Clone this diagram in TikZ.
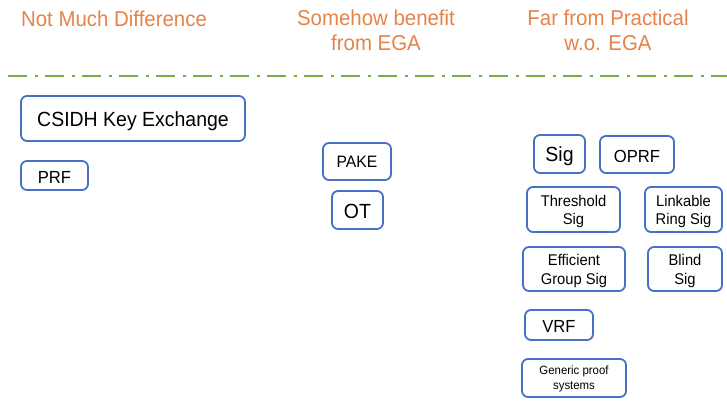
\documentclass[tikz,border=0pt]{standalone}
\usepackage{fontspec}
\setmainfont{Liberation Sans}[FakeStretch=0.95]
\definecolor{hdr}{RGB}{229,131,72}
\definecolor{sep}{RGB}{122,172,72}
\definecolor{boxline}{RGB}{72,112,196}
% box label: centred stack of lines, nudged down by \lowerby without
% changing the extent the node is centred on
\def\lowerby{0pt}
\newcommand{\bt}[1]{\raisebox{-\lowerby}[\height][\depth]{%
  \begin{tabular}{@{}c@{}}#1\end{tabular}}}
\begin{document}
\begin{tikzpicture}[x=1pt,y=-1pt,
  header/.style={text=hdr,align=center,inner sep=0pt,
    font=\fontsize{21.5}{25}\selectfont},
  item/.style={draw=boxline,line width=1.8pt,rounded corners=6pt,
    fill=white,inner sep=0pt,text=black},
  sz/.style 2 args={minimum width=#1pt,minimum height=#2pt},
  fbig/.style={font=\fontsize{20.5}{22}\selectfont,
    execute at begin node={\def\lowerby{3.6pt}}},
  fmid/.style={font=\fontsize{17.5}{19}\selectfont,
    execute at begin node={\def\lowerby{3.8pt}}},
  fpake/.style={font=\fontsize{16.5}{19}\selectfont,
    execute at begin node={\def\lowerby{2.3pt}}},
  fsmall/.style={font=\fontsize{15.5}{18.5}\selectfont,
    execute at begin node={\def\lowerby{2.4pt}}},
  ftiny/.style={font=\fontsize{12}{15}\selectfont,
    execute at begin node={\def\lowerby{0.8pt}}}]
  % page frame
  \useasboundingbox[fill=white] (0,0) rectangle (727,406);

  % column headings
  \node[header] (h1) at (114,19) {Not Much Difference};
  \node[header] (h2) at (376,30.5) {Somehow benefit\\from EGA};
  \node[header] (h3) at (608,30.5) {Far from Practical\\w.o. EGA};

  % separating dash-dot rule
  \coordinate (sepL) at (8,76);
  \coordinate (sepR) at (727,76);
  \draw[sep,line width=2.6pt,dash pattern=on 19pt off 8pt on 3pt off 7pt]
    (sepL) -- (sepR);

  % first column
  \node[item,sz={224}{45},fbig] (csidh) at (133,118.5) {\bt{CSIDH Key Exchange}};
  \node[item,sz={67}{29},fmid] (prf) at (54.5,175.5) {\bt{PRF}};

  % second column
  \node[item,sz={68}{37},fpake] (pake) at (357,161.5) {\bt{PAKE}};
  \node[item,sz={51}{38},fbig] (ot) at (357.5,210) {\bt{OT}};

  % third column
  \node[item,sz={51}{38},fbig] (sig) at (559.5,154) {\bt{Sig}};
  \node[item,sz={74}{37},fmid] (oprf) at (637,154.5) {\bt{OPRF}};
  \node[item,sz={93}{45},fsmall] (thr) at (573.5,209.5) {\bt{Threshold\\Sig}};
  \node[item,sz={77}{45},fsmall] (lrs) at (683.5,209.5) {\bt{Linkable\\Ring Sig}};
  \node[item,sz={102}{44},fsmall] (egs) at (574,269) {\bt{Efficient\\Group Sig}};
  \node[item,sz={74}{44},fsmall] (blind) at (685,269) {\bt{Blind\\Sig}};
  \node[item,sz={68}{30},fmid] (vrf) at (559,325) {\bt{VRF}};
  \node[item,sz={104}{38},ftiny] (gps) at (574,378) {\bt{Generic proof\\systems}};
\end{tikzpicture}
\end{document}
